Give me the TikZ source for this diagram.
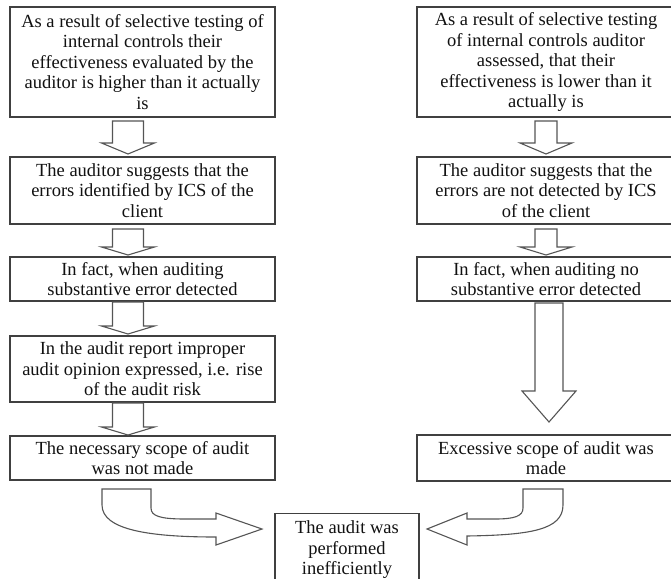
\documentclass[tikz,border=0pt]{standalone}
\usepackage{fontspec}
\setmainfont{Liberation Serif}
\definecolor{boxline}{HTML}{404040}
\definecolor{arrowline}{HTML}{555555}
\definecolor{txt}{HTML}{111111}
\begin{document}
\begin{tikzpicture}[x=1pt,y=-1pt,
  stepbox/.style={draw=boxline, line width=1.2pt, fill=white, align=center,
    inner sep=0pt, text=txt, font=\fontsize{18.5}{20.5}\selectfont},
  blockarrow/.style={draw=arrowline, line width=1.1pt, fill=white, line join=miter}]
\useasboundingbox (0,0) rectangle (671,578);
\clip (0,0) rectangle (671,578);

% left column
\node[stepbox, minimum width=265pt, minimum height=110pt] (l1) at (142.5,62)
  {As a result of selective testing of\\internal controls their\\effectiveness evaluated by the\\auditor is higher than it actually\\is};
\node[stepbox, minimum width=265pt, minimum height=67pt] (l2) at (142.5,190.5)
  {The auditor suggests that the\\errors identified by ICS of the\\client};
\node[stepbox, minimum width=265pt, minimum height=44pt] (l3) at (142.5,279)
  {In fact, when auditing\\substantive error detected};
\node[stepbox, minimum width=265pt, minimum height=66pt] (l4) at (142.5,369)
  {In the audit report improper\\audit opinion expressed, i.e. rise\\of the audit risk};
\node[stepbox, minimum width=265pt, minimum height=44pt] (l5) at (142.5,458)
  {The necessary scope of audit\\was not made};

% right column
\node[stepbox, minimum width=258pt, minimum height=110pt] (r1) at (546,62)
  {As a result of selective testing\\of internal controls auditor\\assessed, that their\\effectiveness is lower than it\\actually is};
\node[stepbox, minimum width=258pt, minimum height=67pt] (r2) at (546,190.5)
  {The auditor suggests that the\\errors are not detected by ICS\\of the client};
\node[stepbox, minimum width=258pt, minimum height=44pt] (r3) at (546,279)
  {In fact, when auditing no\\substantive error detected};
\node[stepbox, minimum width=258pt, minimum height=46pt] (r4) at (546,458)
  {Excessive scope of audit was\\made};

% common result (runs past the lower edge)
\node[stepbox, minimum width=144pt, minimum height=72pt, anchor=north] (res) at (347,513)
  {The audit was\\performed\\inefficiently};

% straight block arrows: centre x, top, shaft end, tip, shaft half width, head half width
\newcommand{\downarrowshape}[6]{%
  \draw[blockarrow] (#1-#5,#2) -- (#1+#5,#2) -- (#1+#5,#3) -- (#1+#6,#3)
    -- (#1,#4) -- (#1-#6,#3) -- (#1-#5,#3) -- cycle;}
\downarrowshape{128}{121}{143}{154}{15.5}{26.5}
\downarrowshape{128}{229}{247}{255}{15.5}{26.5}
\downarrowshape{128}{302}{326}{334}{15.5}{26.5}
\downarrowshape{128}{403}{427}{435}{15.5}{26.5}
\downarrowshape{546}{121}{143}{154}{11}{26}
\downarrowshape{546}{229}{247}{255}{11}{26}
\downarrowshape{549}{303}{391}{422}{14}{27}

% bent arrows into the result box
\draw[blockarrow] (102,489) -- (151,489) -- (151,508)
  .. controls (151,516) and (160,519) .. (185,519) -- (216,519) -- (216,513)
  -- (262,529) -- (216,545) -- (216,537)
  .. controls (150,537) and (102,530) .. (102,505) -- cycle;
\draw[blockarrow] (563,489) -- (523,489) -- (523,508)
  .. controls (523,516) and (515,519) .. (495,519) -- (467,519) -- (467,513)
  -- (427,529) -- (467,545) -- (467,536)
  .. controls (530,535) and (563,530) .. (563,505) -- cycle;
\end{tikzpicture}
\end{document}
